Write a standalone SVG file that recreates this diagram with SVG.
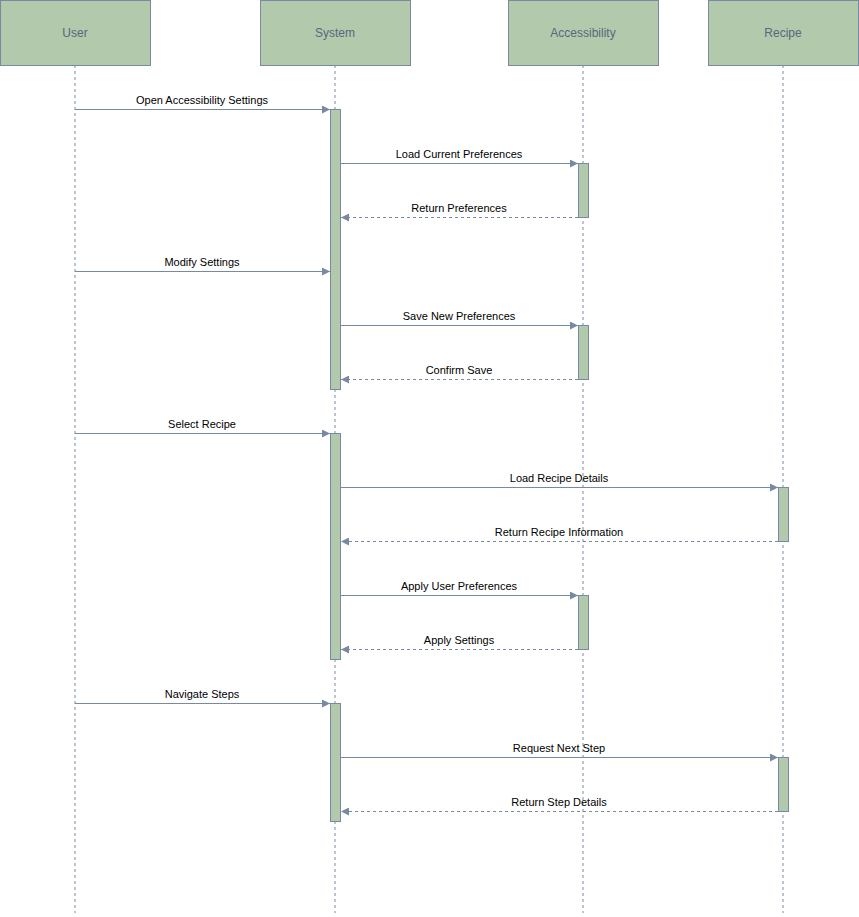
<svg xmlns="http://www.w3.org/2000/svg" width="859" height="917" viewBox="0 0 859 917">
<style>
.hdr{fill:#B2C9AB;stroke:#788AA3;stroke-width:1}
.ht{font-family:"Liberation Sans",Arial,sans-serif;font-size:12px;fill:#596780;text-anchor:middle;dominant-baseline:central}
.life{stroke:#788AA3;stroke-width:1;stroke-dasharray:3 3;fill:none}
.act{fill:#B2C9AB;stroke:#788AA3;stroke-width:1}
.msg{stroke:#788AA3;stroke-width:1;fill:none;marker-end:url(#arr)}
.ret{stroke:#788AA3;stroke-width:1;fill:none;stroke-dasharray:3 3;marker-end:url(#arr)}
.lt{font-family:"Liberation Sans",Arial,sans-serif;font-size:11px;fill:#000;text-anchor:middle}
</style>
<defs>
<marker id="arr" viewBox="0 0 10 10" refX="10" refY="5" markerWidth="10" markerHeight="8" markerUnits="userSpaceOnUse" orient="auto">
<path d="M0,0 L10,5 L0,10 Z" fill="#788AA3"/>
</marker>
</defs>
<rect width="859" height="917" fill="#fff"/>
<g id="lifelines">
<line class="life" x1="75" y1="65" x2="75" y2="913"/>
<line class="life" x1="335" y1="65" x2="335" y2="913"/>
<line class="life" x1="583" y1="65" x2="583" y2="913"/>
<line class="life" x1="783" y1="65" x2="783" y2="913"/>
</g>
<g id="user"><rect class="hdr" x="0.5" y="0.5" width="150" height="65"/><text class="ht" x="75" y="33">User</text></g>
<g id="system"><rect class="hdr" x="260.5" y="0.5" width="150" height="65"/><text class="ht" x="335" y="33">System</text></g>
<g id="accessibility"><rect class="hdr" x="508.5" y="0.5" width="150" height="65"/><text class="ht" x="583" y="33">Accessibility</text></g>
<g id="recipe"><rect class="hdr" x="708.5" y="0.5" width="150" height="65"/><text class="ht" x="783" y="33">Recipe</text></g>
<g id="activations">
<rect class="act" x="330.5" y="109.5" width="10" height="280"/>
<rect class="act" x="578.5" y="163.5" width="10" height="54"/>
<rect class="act" x="578.5" y="325.5" width="10" height="54"/>
<rect class="act" x="330.5" y="433.5" width="10" height="226"/>
<rect class="act" x="778.5" y="487.5" width="10" height="54"/>
<rect class="act" x="578.5" y="595.5" width="10" height="54"/>
<rect class="act" x="330.5" y="703.5" width="10" height="118"/>
<rect class="act" x="778.5" y="757.5" width="10" height="54"/>
</g>
<g id="connectors">
<line class="msg" x1="75" y1="109.5" x2="330" y2="109.5"/>
<text class="lt" x="202" y="104">Open Accessibility Settings</text>
<line class="msg" x1="341" y1="163.5" x2="578" y2="163.5"/>
<text class="lt" x="459" y="158">Load Current Preferences</text>
<line class="ret" x1="578" y1="217.5" x2="341" y2="217.5"/>
<text class="lt" x="459" y="212">Return Preferences</text>
<line class="msg" x1="75" y1="271.5" x2="330" y2="271.5"/>
<text class="lt" x="202" y="266">Modify Settings</text>
<line class="msg" x1="341" y1="325.5" x2="578" y2="325.5"/>
<text class="lt" x="459" y="320">Save New Preferences</text>
<line class="ret" x1="578" y1="379.5" x2="341" y2="379.5"/>
<text class="lt" x="459" y="374">Confirm Save</text>
<line class="msg" x1="75" y1="433.5" x2="330" y2="433.5"/>
<text class="lt" x="202" y="428">Select Recipe</text>
<line class="msg" x1="341" y1="487.5" x2="778" y2="487.5"/>
<text class="lt" x="559" y="482">Load Recipe Details</text>
<line class="ret" x1="778" y1="541.5" x2="341" y2="541.5"/>
<text class="lt" x="559" y="536">Return Recipe Information</text>
<line class="msg" x1="341" y1="595.5" x2="578" y2="595.5"/>
<text class="lt" x="459" y="590">Apply User Preferences</text>
<line class="ret" x1="578" y1="649.5" x2="341" y2="649.5"/>
<text class="lt" x="459" y="644">Apply Settings</text>
<line class="msg" x1="75" y1="703.5" x2="330" y2="703.5"/>
<text class="lt" x="202" y="698">Navigate Steps</text>
<line class="msg" x1="341" y1="757.5" x2="778" y2="757.5"/>
<text class="lt" x="559" y="752">Request Next Step</text>
<line class="ret" x1="778" y1="811.5" x2="341" y2="811.5"/>
<text class="lt" x="559" y="806">Return Step Details</text>
</g>
</svg>
